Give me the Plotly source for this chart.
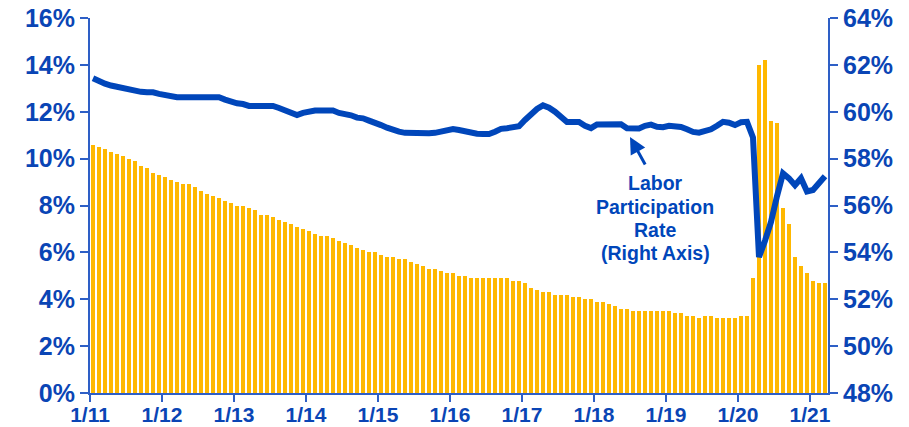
import plotly.graph_objects as go

# Unemployment rate (%), monthly Jan 2011 - Mar 2021 (left axis)
unemployment = [
    10.6, 10.5, 10.4, 10.3, 10.2, 10.1, 10.0, 9.9, 9.7, 9.6, 9.4, 9.3,
    9.2, 9.1, 9.0, 8.9, 8.9, 8.8, 8.6, 8.5, 8.4, 8.3, 8.2, 8.1,
    8.0, 8.0, 7.9, 7.8, 7.6, 7.6, 7.5, 7.4, 7.3, 7.2, 7.1, 7.0,
    6.9, 6.8, 6.7, 6.7, 6.6, 6.5, 6.4, 6.3, 6.2, 6.1, 6.0, 6.0,
    5.9, 5.8, 5.8, 5.7, 5.7, 5.6, 5.5, 5.4, 5.3, 5.3, 5.2, 5.1,
    5.1, 5.0, 5.0, 4.9, 4.9, 4.9, 4.9, 4.9, 4.9, 4.9, 4.8, 4.8,
    4.7, 4.5, 4.4, 4.3, 4.3, 4.2, 4.2, 4.2, 4.1, 4.1, 4.0, 4.0,
    3.9, 3.9, 3.8, 3.7, 3.6, 3.6, 3.5, 3.5, 3.5, 3.5, 3.5, 3.5,
    3.5, 3.4, 3.4, 3.3, 3.3, 3.2, 3.3, 3.3, 3.2, 3.2, 3.2, 3.2,
    3.3, 3.3, 4.9, 14.0, 14.2, 11.6, 11.5, 7.9, 7.2, 5.8, 5.4, 5.1,
    4.8, 4.7, 4.7,
]

# Labor participation rate (%), same months (right axis)
participation = [
    61.43, 61.30, 61.20, 61.12, 61.06, 61.03, 60.95, 60.90, 60.85, 60.83, 60.83, 60.76,
    60.72, 60.62, 60.62, 60.62, 60.62, 60.62, 60.62, 60.62, 60.62, 60.62, 60.52, 60.42,
    60.36, 60.33, 60.25, 60.25, 60.25, 60.25, 60.25, 60.16, 60.06, 59.96, 59.86, 59.95,
    60.02, 60.05, 60.05, 60.05, 60.05, 59.95, 59.93, 59.85, 59.75, 59.72, 59.62, 59.55,
    59.43, 59.32, 59.22, 59.15, 59.10, 59.08, 59.08, 59.08, 59.08, 59.10, 59.17, 59.19,
    59.26, 59.22, 59.15, 59.12, 59.06, 59.05, 59.05, 59.15, 59.27, 59.30, 59.33, 59.38,
    59.65, 59.90, 60.12, 60.27, 60.17, 60.00, 59.75, 59.56, 59.56, 59.56, 59.40, 59.30,
    59.46, 59.46, 59.46, 59.47, 59.47, 59.30, 59.29, 59.29, 59.40, 59.45, 59.36, 59.34,
    59.40, 59.40, 59.35, 59.25, 59.14, 59.11, 59.15, 59.25, 59.40, 59.57, 59.53, 59.43,
    59.55, 59.57, 58.90, 53.80, 54.50, 55.30, 56.40, 57.37, 57.16, 56.87, 57.16, 56.60,
    56.66, 56.95, 57.25,
]

tick_labels = ["1/11", "1/12", "1/13", "1/14", "1/15", "1/16",
               "1/17", "1/18", "1/19", "1/20", "1/21"]

note_lines = ["Labor", "Participation", "Rate", "(Right Axis)"]

months = [i + 0.5 for i in range(len(unemployment))]
tick_positions = [12 * k for k in range(len(tick_labels))]

TEXT_BLUE = "#0A45B5"
AXIS_BLUE = "#2E5FC6"
LINE_BLUE = "#0046BA"
BAR_GOLD = "#FFB800"
FONT = "Liberation Sans, Arial, sans-serif"

fig = go.Figure()
fig.add_trace(go.Bar(
    x=months, y=unemployment, width=0.66,
    marker=dict(color=BAR_GOLD, line=dict(width=0)),
    yaxis="y", showlegend=False,
))
fig.add_trace(go.Scatter(
    x=months, y=participation, mode="lines",
    line=dict(color=LINE_BLUE, width=6),
    yaxis="y2", showlegend=False,
))

fig.add_annotation(
    x=90.0, y=58.92, xref="x", yref="y2",
    ax=16, ay=29, text="", showarrow=True,
    arrowhead=2, arrowsize=1.1, arrowwidth=3, arrowcolor=LINE_BLUE,
)
note_y = [56.96, 55.94, 54.95, 53.97]
for txt, yv in zip(note_lines, note_y):
    fig.add_annotation(
        x=94.2, y=yv, xref="x", yref="y2", yanchor="middle",
        text="<b>" + txt + "</b>", showarrow=False, align="center",
        font=dict(family=FONT, size=19.5, color=LINE_BLUE),
    )

axis_font = dict(family=FONT, size=25, color=TEXT_BLUE, weight="bold")

fig.update_layout(
    width=909, height=427,
    margin=dict(l=90, r=81, t=18, b=34),
    paper_bgcolor="white", plot_bgcolor="white",
    bargap=0,
    xaxis=dict(
        range=[0, 123], tickvals=tick_positions, ticktext=tick_labels,
        showgrid=False, zeroline=False, showline=True, linecolor=AXIS_BLUE,
        linewidth=2, ticks="outside", ticklen=7, tickwidth=1.5, tickcolor=AXIS_BLUE,
        tickfont=dict(family=FONT, size=21, color=TEXT_BLUE, weight="bold"),
        ticklabelstandoff=-5, automargin=False,
    ),
    yaxis=dict(
        range=[0, 16], dtick=2, ticksuffix="%",
        showgrid=False, zeroline=False, showline=True, linecolor=AXIS_BLUE,
        linewidth=2, ticks="outside", ticklen=8, tickwidth=1.5, tickcolor=AXIS_BLUE,
        tickfont=axis_font, automargin=False,
    ),
    yaxis2=dict(
        range=[48, 64], dtick=2, ticksuffix="%", overlaying="y", side="right",
        anchor="x", showgrid=False, zeroline=False, showline=True,
        linecolor=AXIS_BLUE, linewidth=2, ticks="outside", ticklen=8,
        tickwidth=1.5, tickcolor=AXIS_BLUE, tickfont=axis_font, automargin=False,
    ),
    font=dict(family=FONT),
)

fig.write_html(
    "out.html",
    config={"displayModeBar": False},
    post_script="document.body.style.margin='0';document.body.style.overflow='hidden';",
)
